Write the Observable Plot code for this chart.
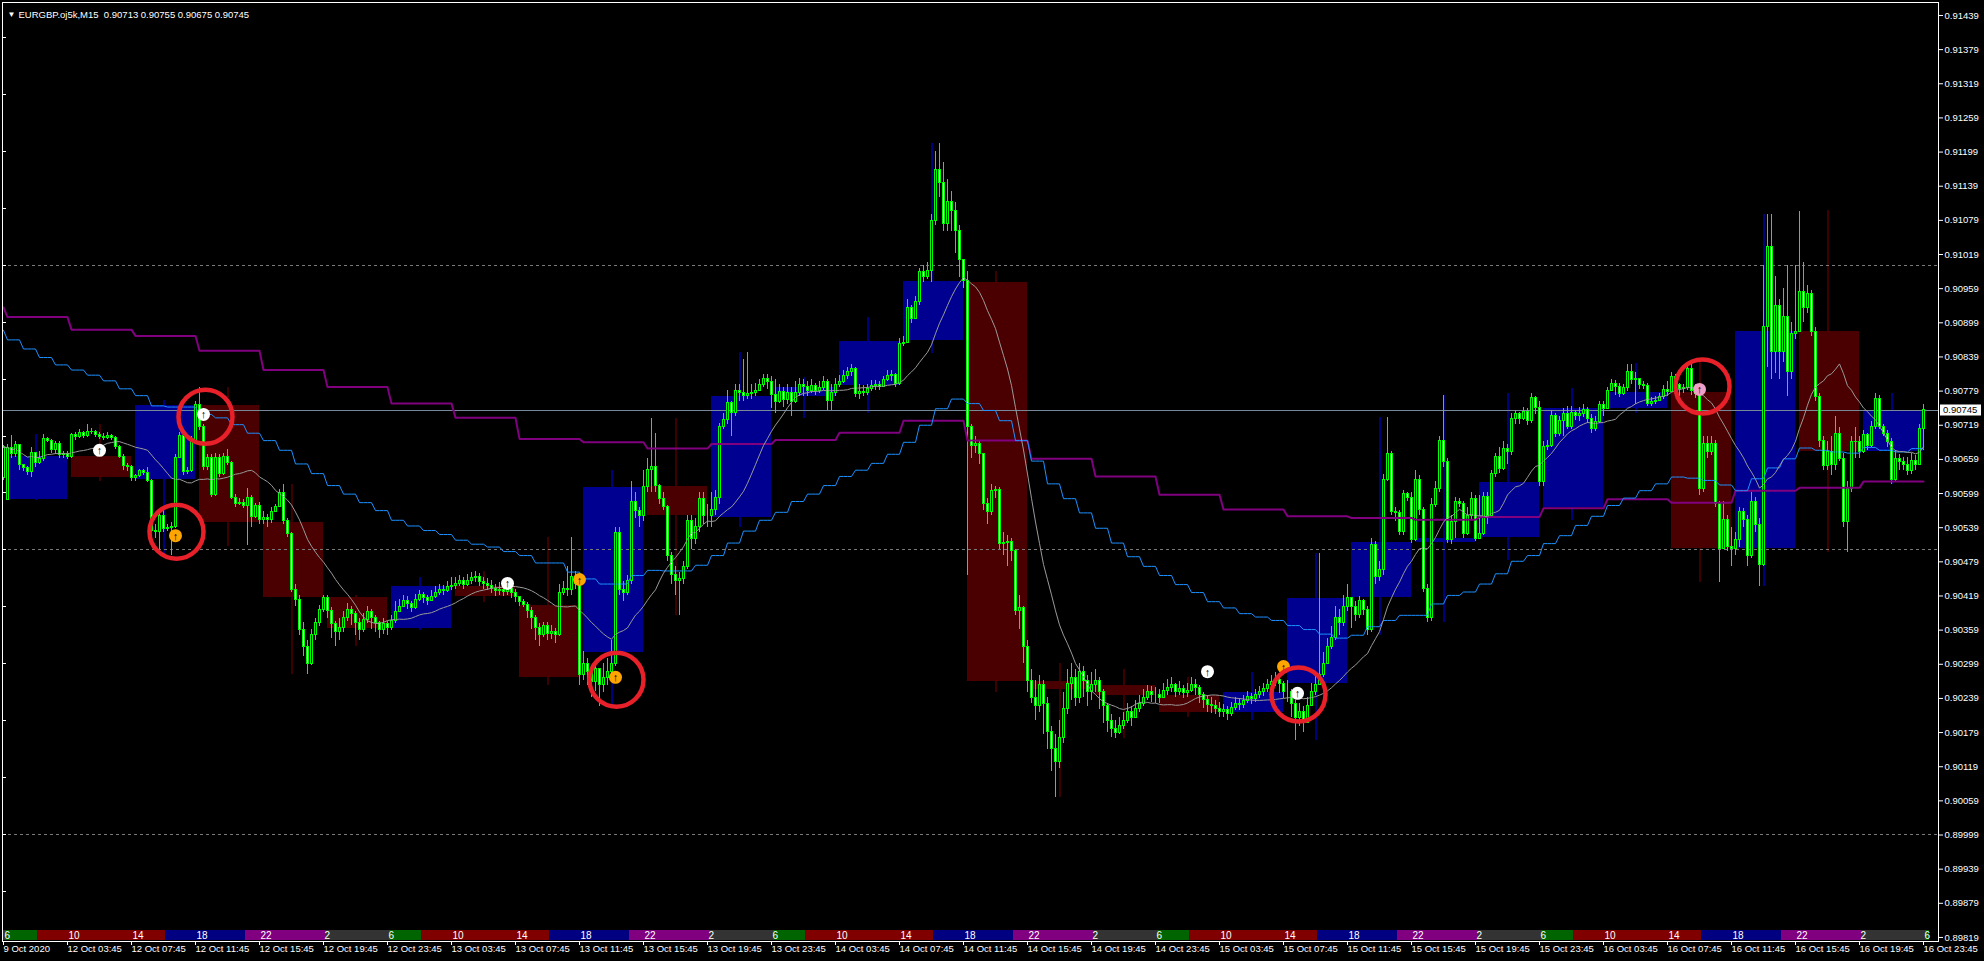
<!DOCTYPE html>
<html><head><meta charset="utf-8">
<script src="https://cdn.jsdelivr.net/npm/d3@7"></script>
<script src="https://cdn.jsdelivr.net/npm/@observablehq/plot@0.6"></script>
<style>
html,body{margin:0;padding:0;background:#000;overflow:hidden;}
#chart svg{display:block;}
</style></head><body><div id="chart"></div>
<script>
// ---------- DATA (prices are points of 0.00001 above 0.90000) ----------
const symbolTitle = "EURGBP.oj5k,M15  0.90713 0.90755 0.90675 0.90745";
const firstOpen = 627;
const gapOpen = {1: 588};
const close = [680,
679,668,684,650,644,636,670,652,660,694,692,675,686,667,668,664,
701,698,705,700,708,707,702,699,697,700,696,681,664,647,645,627,
630,638,635,621,534,531,560,536,538,540,662,700,637,638,690,754,
716,645,662,597,662,634,664,652,592,580,583,577,592,557,577,552,
556,552,566,575,600,550,528,430,412,360,330,300,350,372,395,416,
392,370,355,362,380,395,388,372,360,376,390,380,372,360,370,362,
375,390,400,410,405,398,412,420,415,410,418,425,430,428,435,436,
440,445,438,446,450,452,444,440,436,432,428,430,426,432,424,418,
408,404,392,380,362,350,366,352,356,350,424,432,430,452,440,280,
300,285,268,290,262,275,286,300,530,430,425,445,585,568,560,610,
640,645,612,590,575,490,455,445,448,470,550,520,540,590,560,560,
570,592,716,728,758,740,780,775,770,774,776,780,790,800,795,772,
760,778,764,776,760,775,790,786,780,788,780,785,795,762,775,790,
795,805,812,818,774,778,776,782,788,790,786,798,806,808,792,862,
864,925,905,935,988,980,990,1078,1167,1145,1072,1112,1095,1060,1010,972,
716,682,686,668,580,566,604,606,510,512,514,498,392,398,330,269,
240,225,262,230,180,150,128,170,220,265,275,240,285,270,250,262,
270,250,225,200,185,178,190,200,215,205,220,230,240,250,245,245,
240,252,258,262,250,255,248,252,262,258,245,236,228,225,220,215,
218,212,222,230,228,235,242,238,245,250,255,262,268,272,265,250,
250,230,205,215,195,225,250,262,280,300,330,345,380,372,400,415,
400,385,410,395,360,508,452,464,622,668,566,564,531,598,592,517,
622,570,432,380,578,607,692,654,517,549,584,581,528,560,590,520,
528,593,560,634,663,642,678,672,730,739,730,742,727,766,750,619,
681,683,736,704,727,739,716,740,735,738,745,730,712,724,754,748,
780,792,786,774,784,812,798,800,790,788,757,760,762,768,781,778,
803,790,782,784,818,780,774,607,686,672,686,581,502,552,505,502,
517,566,552,490,584,543,473,891,1032,847,929,847,909,812,880,883,
953,925,950,883,768,692,648,672,650,704,660,549,607,689,690,672,
701,683,716,765,716,704,690,622,660,655,650,639,657,650,713,745];
const high = [684,
685,701,690,668,650,646,680,660,672,703,697,694,690,690,672,672,
704,706,712,708,720,714,710,706,704,706,702,699,683,668,652,649,
633,642,641,645,624,545,566,570,545,548,668,706,706,645,700,760,
786,720,668,668,670,668,670,676,655,598,590,588,607,596,582,584,
568,562,575,580,606,615,555,530,440,420,372,340,360,380,402,420,
420,398,375,380,392,405,400,392,380,388,400,395,385,375,380,375,
385,410,412,420,418,410,422,428,425,420,428,435,440,438,445,452,
452,455,452,456,460,462,458,452,450,446,440,442,440,444,438,430,
416,412,408,398,384,370,372,372,368,362,440,445,470,522,462,445,
322,310,295,305,290,300,310,340,540,540,445,455,620,600,575,640,
660,731,705,615,600,578,495,470,460,480,560,560,555,600,600,580,
600,605,722,740,780,760,790,790,835,847,790,792,800,808,808,805,
800,790,785,790,785,795,802,800,795,800,792,795,805,800,790,802,
806,815,820,825,820,790,788,790,798,798,796,805,815,815,810,872,
875,940,930,945,995,1000,1005,1090,1200,1214,1180,1150,1130,1110,1070,1000,
989,720,700,690,670,590,615,612,610,530,525,520,500,420,400,340,
290,270,280,270,240,190,175,200,250,290,300,290,300,295,280,285,
290,275,255,230,210,200,205,215,230,225,235,245,255,262,260,258,
255,265,272,275,265,268,262,265,275,272,262,250,245,240,235,232,
228,225,232,240,238,245,252,248,255,260,265,272,280,285,280,268,
270,255,235,230,225,240,265,280,494,320,345,365,400,395,420,440,
415,410,418,412,400,520,515,480,632,733,672,575,570,605,600,600,
640,630,575,440,590,620,700,771,660,560,592,590,585,575,600,596,
595,600,600,640,670,680,690,685,740,745,742,750,748,775,770,760,
690,692,745,740,735,748,752,752,745,750,755,750,738,735,760,760,
786,800,798,792,790,825,826,812,798,795,792,768,770,775,788,795,
812,808,792,790,830,825,790,780,700,700,700,692,585,585,560,540,
530,575,572,560,600,592,555,1000,1090,1090,980,940,960,1000,900,1000,
1094,1005,965,955,890,775,700,690,700,735,715,670,620,700,715,700,
710,705,725,775,772,720,710,695,675,668,662,662,670,665,720,755];
const low = [622,
586,660,662,640,638,630,627,644,650,656,688,670,668,660,660,658,
660,692,696,695,698,702,697,694,693,694,692,676,660,640,638,620,
620,628,630,618,530,520,500,530,532,490,538,660,630,632,636,688,
710,640,640,592,594,628,630,648,588,575,578,572,507,540,555,545,
545,540,546,568,576,545,522,425,400,350,312,281,296,340,366,390,
380,345,330,340,355,375,368,350,340,355,370,360,355,345,352,350,
358,370,390,398,396,390,396,410,405,402,410,415,420,420,425,428,
430,436,430,436,440,442,436,430,428,424,418,420,418,420,414,408,
400,398,380,360,340,330,346,340,342,335,348,420,418,420,430,262,
270,262,240,252,225,250,262,280,295,420,410,420,440,555,540,550,
600,600,600,580,570,480,440,420,385,440,465,500,510,530,545,540,
540,560,580,712,720,700,735,760,760,764,765,770,778,785,782,748,
740,758,750,756,735,758,770,770,770,775,772,775,780,745,745,770,
785,792,800,805,768,765,770,772,778,780,780,785,795,795,785,788,
858,862,898,905,930,970,975,970,1070,1120,1060,1060,1060,1020,978,960,
455,660,670,650,570,545,560,590,500,490,470,480,385,360,300,250,
230,200,215,175,150,110,65,115,160,210,235,225,230,240,225,235,
250,220,195,180,170,168,175,185,195,190,205,215,225,235,232,230,
230,238,245,250,240,245,238,240,250,245,230,222,215,212,210,205,
205,200,208,218,218,222,230,228,232,238,242,250,255,260,248,238,
232,205,165,190,180,195,225,245,262,275,300,325,340,350,365,392,
362,375,380,385,350,355,440,445,455,620,560,550,525,525,585,512,
515,560,425,372,375,575,600,645,512,510,520,575,520,525,552,515,
520,525,545,575,628,635,640,650,665,720,720,728,718,722,738,612,
612,675,680,698,700,700,712,712,728,726,732,722,705,708,722,735,
748,778,772,768,772,778,790,755,782,782,752,752,756,760,765,770,
776,780,770,775,780,772,766,595,600,660,665,575,443,500,498,470,
490,505,540,470,485,530,435,470,820,800,810,800,830,770,800,870,
945,900,915,875,760,680,640,640,630,640,655,540,496,600,660,660,
670,675,680,712,712,700,680,615,618,640,640,630,632,640,648,675];

// H4 candles drawn as boxes
const h4Open  = [588,664,624,754,548,416,362,436,402,320,612,557,770,789,868,970,269,262,245,215,265,416,513,522,575,748,777,502,883,672];
const h4Close = [664,627,754,548,416,362,436,418,276,610,560,770,785,866,972,269,255,245,215,250,415,513,520,619,748,777,502,883,672,745];
const h4High  = [703,720,762,786,615,420,452,462,522,639,731,847,803,908,1214,989,300,290,275,285,494,733,771,775,783,827,833,1090,1096,774];
const h4Low   = [586,620,485,506,281,330,358,408,262,225,385,540,731,740,845,250,65,168,205,200,165,350,372,481,552,739,443,435,496,615];

// H4 moving average (purple) and H1 moving average (blue)
const purplePrev = 926;
const purpleH4 = [909,887,876,850,816,786,757,732,695,689,678,686,693,706,727,692,660,629,597,571,559,556,553,558,573,589,583,604,609,620];
const bluePrev = 886;
const blueH1 = [
869,853,838,825,816,807,797,783,771,753,
751,751,738,732,720,705,692,675,651,634,
613,598,583,569,552,542,534,527,517,510,
505,497,490,477,477,461,449,440,440,455,
464,463,463,473,490,512,533,552,566,585,
598,613,629,640,652,668,689,719,748,765,
757,745,727,692,656,616,590,565,538,512,
488,471,455,439,425,409,398,388,382,376,
367,360,352,345,350,365,376,385,385,405,
420,426,440,458,480,490,511,525,543,559,
578,591,604,616,628,626,622,614,604,625,
644,660,679,675,672,670,680,675,672,678];

const roundLevels = [0, 500, 1000];
const currentPrice = 745;
const currentPriceLabel = "0.90745";

const priceTickLabels = ["0.89819","0.89879","0.89939","0.89999","0.90059","0.90119","0.90179","0.90239","0.90299","0.90359","0.90419","0.90479","0.90539","0.90599","0.90659","0.90719","0.90779","0.90839","0.90899","0.90959","0.91019","0.91079","0.91139","0.91199","0.91259","0.91319","0.91379","0.91439"];
const timeTickLabels = ["9 Oct 2020",
"12 Oct 03:45","12 Oct 07:45","12 Oct 11:45","12 Oct 15:45","12 Oct 19:45","12 Oct 23:45",
"13 Oct 03:45","13 Oct 07:45","13 Oct 11:45","13 Oct 15:45","13 Oct 19:45","13 Oct 23:45",
"14 Oct 03:45","14 Oct 07:45","14 Oct 11:45","14 Oct 15:45","14 Oct 19:45","14 Oct 23:45",
"15 Oct 03:45","15 Oct 07:45","15 Oct 11:45","15 Oct 15:45","15 Oct 19:45","15 Oct 23:45",
"16 Oct 03:45","16 Oct 07:45","16 Oct 11:45","16 Oct 15:45","16 Oct 19:45","16 Oct 23:45"];

// session strip: server hour where each band starts, and the local-hour labels
const sessionStartHours = [0, 2, 10, 15, 20];
const sessionLabelCycle = ["6","10","14","18","22","2"];

// signal arrows and hand-drawn circles
const markerBars   = [24, 43, 50, 126, 144, 153, 301, 320, 323.5, 424];
const markerPrices = [675, 525, 738, 441, 448, 276, 286, 295, 248, 782];
const markerKinds  = ["w","o","w","w","o","o","w","o","w","p"];
const circleBars   = [50.5, 43.25, 153.25, 323.75, 424.75];
const circlePrices = [734, 532, 272, 246, 787];

// ---------- STYLE ----------
const C = {
  lime: "#00ff00", boxUp: "#000090", boxDn: "#4a0000", wickUp: "#00007c", wickDn: "#3c0000",
  purple: "#800080", blue: "#1e90ff", ma: "#9a9a9a", grid: "#7a7a7a", bid: "#778899",
  sessions: ["#006400", "#800000", "#000080", "#800080", "#333333"],
  markers: {w: "#ffffff", o: "#ffa500", p: "#f0a0c8"}, circle: "#e8202a"
};
const FONT = "Liberation Sans, Arial, sans-serif";

// ---------- DERIVED TABLES ----------
const bars = close.map((c, i) => {
  const o = i === 0 ? firstOpen : (gapOpen[i] ?? close[i - 1]);
  return {i, o, c, h: Math.max(high[i], o, c), l: Math.min(low[i], o, c)};
});
const h4 = h4Open.map((o, k) => ({k, first: 1 + 16 * k, last: 16 + 16 * k, mid: 8 + 16 * k,
  o, c: h4Close[k], h: h4High[k], l: h4Low[k]}));
const purpleLine = bars.map(b => ({i: b.i, v: b.i === 0 ? purplePrev : purpleH4[Math.floor((b.i - 1) / 16)]}));
const blueLine = bars.map(b => ({i: b.i, v: b.i === 0 ? bluePrev : blueH1[Math.floor((b.i - 1) / 4)]}));

// session band per bar (bar 1 = Mon 00:00 server time, bar 0 = Fri 23:45); one bar past the end is drawn too
const sessionOfBar = i => {
  const hour = i === 0 ? 23 : Math.floor((((i - 1) * 15) % 1440) / 60);
  let s = 0; sessionStartHours.forEach((h, j) => { if (hour >= h) s = j; });
  return s;
};
const segments = [];
for (let i = 0; i <= 481; i++) {
  const s = sessionOfBar(i);
  const last = segments[segments.length - 1];
  if (last && last.s === s) last.end = i; else segments.push({s, start: i, end: i});
}
const labelBars = timeTickLabels.map((_, k) => 16 * k);
const sessionLabels = labelBars.map((b, k) => ({b, t: sessionLabelCycle[k % 6]}));

const priceTicks = priceTickLabels.map(s => Math.round((parseFloat(s) - 0.9) * 1e5));
const priceLabelOf = new Map(priceTicks.map((v, j) => [v, priceTickLabels[j]]));
const leftTicks = d3.range(-100, 1500, 100);
const markers = markerBars.map((b, j) => ({b, p: markerPrices[j], k: markerKinds[j]}));
const circles = circleBars.map((b, j) => ({b, p: circlePrices[j]}));

// ---------- CHART ----------
const xDom = [-0.25, 483.75], yDom = [-188.1, 1461.8];
const stripLo = yDom[0] + 2, stripHi = yDom[0] + 19.5;
const crisp = {shapeRendering: "crispEdges"};

const chart = Plot.plot({
  width: 1984, height: 961,
  marginLeft: 2, marginRight: 46, marginTop: 2, marginBottom: 20,
  x: {domain: xDom, axis: null},
  y: {domain: yDom, axis: null},
  style: {background: "#000", color: "#fff", fontFamily: FONT, fontSize: "9.5px", overflow: "visible"},
  marks: [
    // H4 boxes and their wicks
    Plot.ruleX(h4.filter(d => d.c >= d.o), {x: "mid", y1: "l", y2: "h", stroke: C.wickUp, strokeWidth: 2, ...crisp}),
    Plot.ruleX(h4.filter(d => d.c < d.o), {x: "mid", y1: "l", y2: "h", stroke: C.wickDn, strokeWidth: 2, ...crisp}),
    Plot.rect(h4.filter(d => d.c >= d.o), {x1: "first", x2: "last", y1: "o", y2: "c", fill: C.boxUp, ...crisp}),
    Plot.rect(h4.filter(d => d.c < d.o), {x1: "first", x2: "last", y1: "o", y2: "c", fill: C.boxDn, ...crisp}),
    // round levels and bid line
    Plot.ruleY(roundLevels, {stroke: C.grid, strokeDasharray: "3,3", ...crisp}),
    Plot.ruleY([currentPrice], {stroke: C.bid, ...crisp}),
    // M15 candles
    Plot.ruleX(bars, {x: "i", y1: "l", y2: "h", stroke: C.lime, ...crisp}),
    Plot.rect(bars.filter(d => d.c >= d.o), {x1: d => d.i - 0.25, x2: d => d.i + 0.25, y1: "o", y2: "c", fill: "#000", stroke: C.lime, ...crisp}),
    Plot.rect(bars.filter(d => d.c < d.o), {x1: d => d.i - 0.25, x2: d => d.i + 0.25, y1: "o", y2: "c", fill: "#fff", stroke: C.lime, ...crisp}),
    // indicator lines
    Plot.line(purpleLine, {x: "i", y: "v", stroke: C.purple, strokeWidth: 2}),
    Plot.line(blueLine, {x: "i", y: "v", stroke: C.blue, strokeWidth: 1}),
    Plot.lineY(bars, Plot.windowY({k: 20, anchor: "end", reduce: "mean", strict: false}, {x: "i", y: "c", stroke: C.ma, strokeWidth: 1})),
    // session strip
    Plot.rect(segments, {x1: d => d.start - 0.5, x2: d => d.end + 0.5, y1: stripLo, y2: stripHi, fill: d => C.sessions[d.s], clip: true, ...crisp}),
    Plot.text(sessionLabels, {x: "b", y: (stripLo + stripHi) / 2, text: "t", textAnchor: "start", dx: 1, fill: "#fff", fontSize: 10}),
    // signal markers
    Plot.dot(markers, {x: "b", y: "p", r: 6.5, fill: d => C.markers[d.k]}),
    Plot.text(markers, {x: "b", y: "p", text: () => "↑", fill: "#000", fontSize: 11, fontWeight: "bold", dy: 0.5}),
    Plot.dot(circles, {x: "b", y: "p", r: 27, stroke: C.circle, strokeWidth: 4.5, fill: "none"}),
    // frame, left ticks, axes
    Plot.frame({stroke: "#fff"}),
    Plot.ruleY(leftTicks, {x1: xDom[0], x2: xDom[0] + 1.1, stroke: "#fff", ...crisp}),
    Plot.axisY(priceTicks, {anchor: "right", tickSize: 4, tickPadding: 2, tickFormat: v => priceLabelOf.get(v), color: "#fff", label: null, fontSize: 9.5}),
    Plot.axisX(labelBars, {anchor: "bottom", tickSize: 4, tickPadding: 0, tickFormat: (v, j) => timeTickLabels[j], textAnchor: "start", color: "#fff", label: null, fontSize: 9.5}),
    // title
    Plot.text(["▼"], {frameAnchor: "top-left", dx: 5, dy: 9, fill: "#fff", fontSize: 8, textAnchor: "start"}),
    Plot.text([symbolTitle], {frameAnchor: "top-left", dx: 16, dy: 9, fill: "#fff", fontSize: 9.5, textAnchor: "start"})
  ]
});

// current price tag on the price scale
const ys = chart.scale("y");
const yy = ys.apply(currentPrice);
const svg = d3.select(chart);
const g = svg.append("g").attr("text-anchor", "start");
g.append("rect").attr("x", 1940).attr("y", Math.round(yy) - 5.5).attr("width", 41).attr("height", 11).attr("fill", "#fff");
g.append("text").attr("x", 1943).attr("y", yy).attr("dy", "0.35em").attr("fill", "#000")
  .attr("text-anchor", "start").attr("font-size", 9.5).attr("font-family", FONT).text(currentPriceLabel);

document.getElementById("chart").appendChild(chart);
</script></body></html>
